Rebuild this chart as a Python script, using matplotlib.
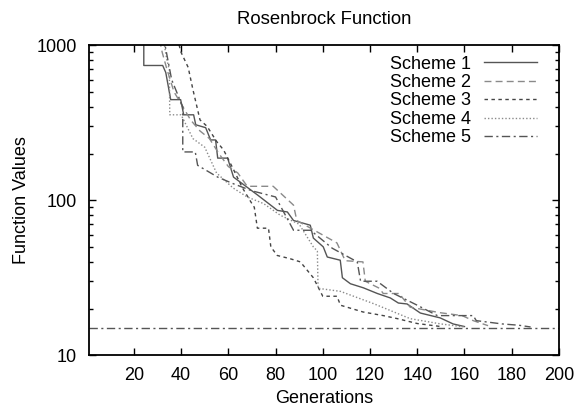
import matplotlib
matplotlib.use("Agg")
import matplotlib.pyplot as plt
from matplotlib.ticker import FixedLocator, LogLocator, NullFormatter

plt.rcParams['font.family'] = ['Liberation Sans', 'DejaVu Sans']

labels = ["Scheme 1", "Scheme 2", "Scheme 3", "Scheme 4", "Scheme 5"]

s1_x = [24.2, 24.2, 32.2, 33.5, 35.6, 39.8, 41.1, 45.3, 46.2, 50.4, 52.5, 54.6, 55.5, 59.7, 62.2,
        72.4, 80.8, 85.0, 87.6, 94.7, 96.0, 100.2, 101.9, 107.4, 108.3, 111.7, 117.2, 123.1,
        128.6, 132.0, 135.7, 141.3, 149.7, 155.2, 160.0]
s1_y = [1500, 741, 741, 668, 446, 446, 356, 356, 307, 294, 245, 245, 187, 187, 141,
        108, 86, 84, 74, 69, 57, 50, 43, 41, 31.6, 28.9, 27.2, 25.0,
        23.4, 21.7, 21.4, 18.7, 17.4, 15.9, 15.3]

s2_x = [29, 32, 34, 37, 40, 44, 48, 52, 56, 60, 64, 68, 79, 87.6, 89, 106, 109.5, 117, 118,
        124, 125.6, 132.6, 133.7, 137, 149.6, 159, 163.7, 170]
s2_y = [1500, 900, 700, 500, 420, 330, 280, 250, 200, 165, 150, 123, 123, 93, 74, 53, 40.7, 40, 30,
        27, 25, 25, 23.5, 20.4, 18.8, 18, 16.7, 15.5]

s3_x = [36, 40, 43, 45, 48, 51, 55, 58, 62, 66, 70, 71, 72.3, 77, 78, 80.7, 86, 90.5, 96, 100,
        106, 107.5, 117, 125.6, 131.6, 140, 150]
s3_y = [1500, 900, 720, 518, 330, 300, 240, 211, 160, 120, 95, 90, 66, 66, 50, 44, 42, 40, 31.6, 24,
        24, 21, 19, 18, 17.2, 16, 15.3]

s4_x = [31, 34, 35, 35.2, 40, 45, 50, 55, 62, 68, 75, 82, 90, 96, 97.7, 98, 107.5, 121.5, 137,
        150, 160]
s4_y = [1500, 800, 700, 356, 356, 250, 220, 150, 120, 105, 95, 80, 70, 50, 47, 27, 25.8, 21.5, 17.2,
        15.9, 15.2]

s5_x = [31, 36, 40.7, 40.7, 46, 47, 55.5, 62, 70, 80, 87.6, 94.8, 104, 114.6, 116, 123, 130,
        140, 148.5, 163.7, 165, 176, 183, 188]
s5_y = [1500, 600, 400, 205, 205, 168, 141, 128, 115, 105, 64, 64, 49, 40, 30, 30, 25,
        21, 18, 18, 16.7, 15.9, 15.6, 15.2]

optimum = 15.0

fig = plt.figure(figsize=(5.78, 4.12), dpi=100)
ax = fig.add_axes([0.154, 0.138, 0.813, 0.752])

styles = [
    dict(color='#555555', linestyle='-', linewidth=1.0),
    dict(color='#8a8a8a', linestyle=(0, (5, 3)), linewidth=1.0),
    dict(color='#444444', linestyle=(0, (2.5, 2.5)), linewidth=1.0),
    dict(color='#8a8a8a', linestyle=(0, (1, 1.5)), linewidth=1.0),
    dict(color='#555555', linestyle=(0, (6, 2.5, 1.5, 2.5)), linewidth=1.0),
]
series = [(s1_x, s1_y), (s2_x, s2_y), (s3_x, s3_y), (s4_x, s4_y), (s5_x, s5_y)]
for (xs, ys), lab, st in zip(series, labels, styles):
    ax.plot(xs, ys, label=lab, **st)

ax.axhline(optimum, **styles[4])

ax.set_yscale('log')
ax.set_ylim(10, 1000)
ax.set_xlim(1, 200)
ax.xaxis.set_major_locator(FixedLocator(list(range(20, 201, 20))))
ax.yaxis.set_major_locator(FixedLocator([10, 100, 1000]))
ax.yaxis.set_minor_locator(LogLocator(base=10, subs=range(2, 10)))
ax.yaxis.set_minor_formatter(NullFormatter())
ax.set_yticklabels(['10', '100', '1000'])

ax.tick_params(which='both', direction='in', top=True, right=True, labelsize=13, pad=8.5, width=1.0)
ax.tick_params(which='major', length=5)
ax.tick_params(which='minor', length=3)
for sp in ax.spines.values():
    sp.set_linewidth(1.3)

ax.set_xlabel('Generations', fontsize=13, labelpad=4)
ax.set_ylabel('Function Values', fontsize=13, labelpad=5)
ax.set_title('Rosenbrock Function', fontsize=13.3, pad=15)

leg = ax.legend(loc='upper right', bbox_to_anchor=(0.953, 0.967), frameon=False, fontsize=13,
                markerfirst=False, handlelength=2.95, labelspacing=0.08, handletextpad=0.67,
                borderaxespad=0.0, borderpad=0.0)

fig.savefig('out.png', dpi=100)
